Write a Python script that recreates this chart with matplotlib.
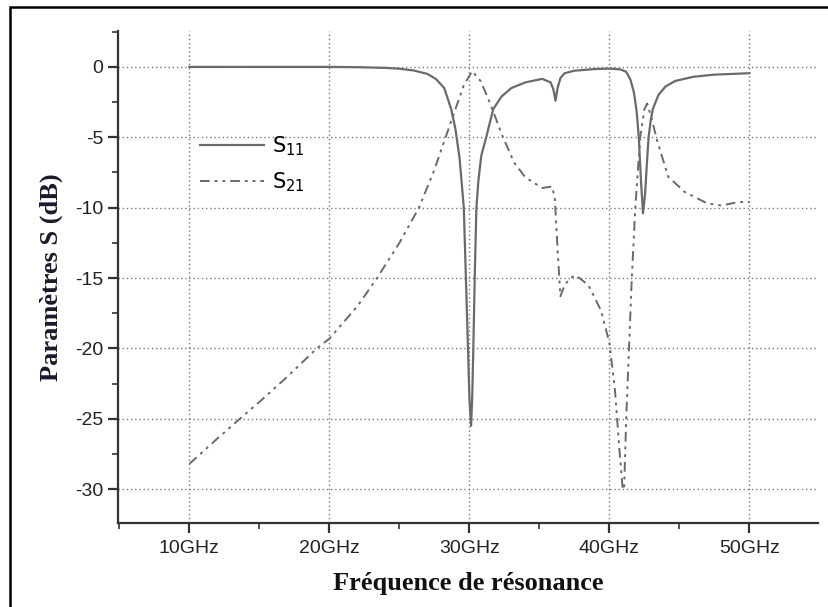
import matplotlib
matplotlib.use("Agg")
import matplotlib.pyplot as plt
from matplotlib.patches import Rectangle
from matplotlib.ticker import MultipleLocator, FuncFormatter

# S11 (solid), GHz / dB
s11_freq = [10, 20, 22, 24, 25, 26, 27, 27.6, 28.2, 28.7, 29.0, 29.3, 29.6, 29.75,
            29.9, 30.0, 30.12, 30.2, 30.28, 30.38, 30.45, 30.5, 30.65, 30.85, 31.2,
            31.7, 32.3, 33.0, 34.0, 35.2, 35.8, 36.0, 36.15, 36.3, 36.5, 36.8, 37.5,
            39.0, 40.0, 40.8, 41.2, 41.5, 41.75, 41.95, 42.1, 42.25, 42.4, 42.55,
            42.7, 42.8, 42.95, 43.1, 43.5, 44.0, 44.7, 46.0, 47.5, 50.0]
s11_db = [0, 0, -0.02, -0.07, -0.13, -0.25, -0.5, -0.85, -1.5, -3.0, -4.4, -6.5,
          -10.0, -15.0, -20.0, -23.5, -25.5, -23.5, -20.0, -15.0, -12.0, -10.0,
          -8.0, -6.3, -5.0, -3.0, -2.1, -1.5, -1.1, -0.85, -1.1, -1.6, -2.4, -1.5,
          -0.8, -0.45, -0.27, -0.15, -0.12, -0.18, -0.35, -0.9, -1.8, -3.2, -5.0,
          -8.0, -10.4, -9.0, -6.5, -5.0, -3.8, -3.0, -2.0, -1.4, -1.0, -0.7, -0.55,
          -0.45]

# S21 (dash-dot-dot)
s21_freq = [10, 12, 13.6, 15, 17, 19.1, 20, 22, 23.4, 25, 26.4, 27.5, 28.3, 29.0,
            29.6, 30.2, 30.8, 31.4, 32.4, 33.2, 34.0, 35.2, 35.9, 36.1, 36.3, 36.5,
            36.8, 37.2, 37.6, 38.5, 39.4, 40.0, 40.4, 40.7, 40.95, 41.05, 41.2,
            41.4, 41.6, 41.85, 42.2, 42.5, 42.7, 43.0, 43.4, 44.2, 45.4, 47.0,
            48.0, 49.2, 50.0]
s21_db = [-28.2, -26.4, -25.0, -23.8, -22.0, -20.0, -19.3, -17.0, -15.0, -12.5,
          -10.0, -7.3, -5.0, -3.0, -1.3, -0.3, -1.0, -2.4, -5.0, -6.8, -7.85, -8.6,
          -8.5, -9.3, -13.0, -16.3, -15.5, -15.0, -14.8, -15.5, -17.3, -19.6,
          -23.0, -27.0, -30.0, -30.0, -25.0, -20.0, -15.0, -10.0, -5.0, -3.0,
          -2.6, -3.6, -5.2, -7.8, -8.9, -9.7, -9.85, -9.6, -9.6]

x_ticks = [10, 20, 30, 40, 50]
y_ticks = [0, -5, -10, -15, -20, -25, -30]

plt.rcParams["mathtext.fontset"] = "custom"
plt.rcParams["mathtext.rm"] = "Liberation Sans"
plt.rcParams["mathtext.default"] = "regular"

fig = plt.figure(figsize=(8.29, 6.07), dpi=100)
ax = fig.add_axes([118 / 829, 1 - 523 / 607, 700 / 829, 492 / 607])

line_col = "#6a6a6a"
ax.plot(s11_freq, s11_db, color=line_col, lw=1.6, label="S$_{11}$")
ax.plot(s21_freq, s21_db, color=line_col, lw=1.4,
        dashes=(5, 2.5, 1.5, 2.5, 1.5, 2.5), label="S$_{21}$")

ax.set_xlim(4.9, 54.9)
ax.set_ylim(-32.4, 2.55)
ax.set_xticks(x_ticks)
ax.set_yticks(y_ticks)
ax.xaxis.set_minor_locator(MultipleLocator(5))
ax.yaxis.set_minor_locator(MultipleLocator(2.5))
ax.xaxis.set_major_formatter(FuncFormatter(lambda v, p: f"{v:.0f}GHz"))
ax.yaxis.set_major_formatter(FuncFormatter(lambda v, p: f"{v:.0f}"))

for s in ["top", "right"]:
    ax.spines[s].set_visible(False)
for s in ["left", "bottom"]:
    ax.spines[s].set_linewidth(1.6)
    ax.spines[s].set_color("#333333")

ax.tick_params(which="major", direction="out", length=7, width=1.6,
               color="#333333", labelsize=14, labelcolor="#222222",
               labelfontfamily="Liberation Sans")
ax.tick_params(which="minor", direction="out", length=4, width=1.2,
               color="#333333")
ax.tick_params(axis="x", pad=5)

ax.grid(True, which="major", color="#7a7a7a", lw=1.0, linestyle=(0, (1, 2)))

ax.set_xlabel("Fréquence de résonance", family="Liberation Serif",
              weight="bold", fontsize=19, color="#111111", labelpad=11)
ax.set_ylabel("Paramètres S (dB)", family="Liberation Serif",
              weight="bold", fontsize=19, color="#1a1a2a", labelpad=9)

ax.legend(loc="upper left", bbox_to_anchor=(0.117, 0.79), frameon=False,
          fontsize=15, handlelength=3.1, handletextpad=0.35, borderpad=0,
          borderaxespad=0, labelspacing=0.6)

# outer frame around the picture
fig.patches.append(Rectangle((10 / 829, -0.01), 1.02, 1 - 7 / 607 + 0.01,
                             transform=fig.transFigure, fill=False,
                             edgecolor="black", lw=1.8))

fig.savefig("out.png", dpi=100)
